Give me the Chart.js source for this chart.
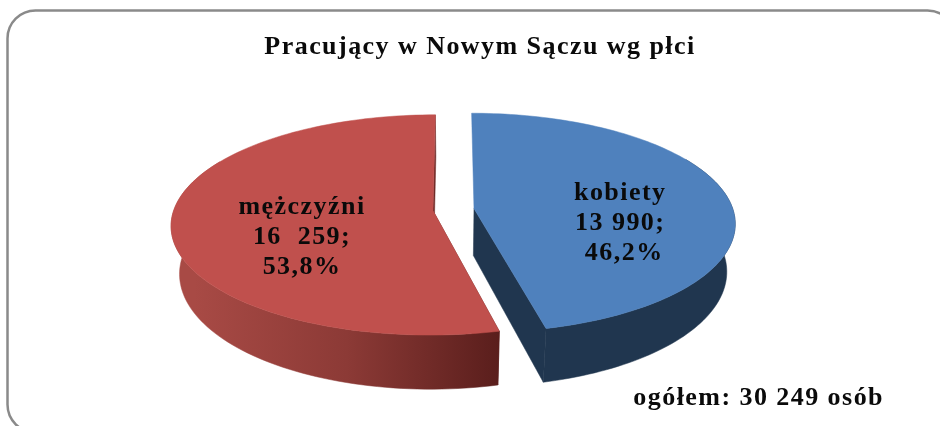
<!DOCTYPE html>
<html lang="pl">
<head>
<meta charset="utf-8">
<style>
html,body{margin:0;padding:0;background:#fff;overflow:hidden}
#wrap{position:relative;width:940px;height:426px}
canvas{display:block}
</style>
<script src="https://cdn.jsdelivr.net/npm/chart.js@4"></script>
</head>
<body>
<div id="wrap"><canvas id="c" width="940" height="426"></canvas></div>
<script>
const titleText = 'Pracujący w Nowym Sączu wg płci';
const noteText = 'ogółem: 30 249 osób';
const categories = ['kobiety', 'mężczyźni'];
const counts = [13990, 16259];
const countLabels = ['13 990;', '16  259;'];
const shareLabels = [' 46,2%', '53,8%'];
const topColors = ['#4f81bd', '#c0504d'];

const serif = '"Liberation Serif", "Times New Roman", serif';
const scene = {
  shiftX: -26.5, shiftY: -3, rx: 259, ry: 108, persp: 0.13,
  depth: 47, taper: 0.03,
  labelR: [0.575, 0.504], labelDy: [22, 20], lineH: 30
};

function project(el, th, r, z) {
  const f = (el.options.offset / 4) / el.outerRadius;
  const mid = (el.startAngle + el.endAngle) / 2;
  const u = f * Math.cos(mid) + r * Math.sin(th);
  const v = f * Math.sin(mid) - r * Math.cos(th);
  const w = 1 / (1 - scene.persp * v);
  const k = 1 - scene.taper * z;
  return {
    x: el.x + scene.shiftX + scene.rx * u * w * k,
    y: el.y + scene.shiftY + scene.ry * v * w + scene.depth * w * z
  };
}
function arcPts(el, r, z, reverse, frontOnly) {
  const a = el.startAngle + Math.PI / 2, b = el.endAngle + Math.PI / 2, n = 120, pts = [];
  for (let i = 0; i <= n; i++) {
    const t = reverse ? 1 - i / n : i / n;
    const th = a + (b - a) * t;
    if (frontOnly && Math.cos(th) > 0.5) continue;
    pts.push(project(el, th, r, z));
  }
  return pts;
}
function fillPoly(ctx, pts, fill) {
  ctx.beginPath();
  pts.forEach((p, i) => i ? ctx.lineTo(p.x, p.y) : ctx.moveTo(p.x, p.y));
  ctx.closePath();
  ctx.fillStyle = fill;
  ctx.fill();
  ctx.strokeStyle = fill;
  ctx.lineWidth = 0.5;
  ctx.stroke();
}

const pie3d = {
  id: 'pie3d',
  beforeDraw(chart) {
    const ctx = chart.ctx;
    ctx.letterSpacing = '1.45px';
    ctx.save();
    ctx.strokeStyle = '#8a8a8a';
    ctx.lineWidth = 2.5;
    ctx.beginPath();
    ctx.roundRect(7.5, 10.5, 948, 422, 28);
    ctx.stroke();
    ctx.restore();
  },
  beforeDatasetDraw(chart) {
    const ctx = chart.ctx, els = chart.getDatasetMeta(0).data;
    ctx.save();
    // red slice first, blue second
    [1, 0].forEach(i => {
      const el = els[i];
      const a = el.startAngle + Math.PI / 2, b = el.endAngle + Math.PI / 2;
      let wall;
      if (i === 0) {
        wall = '#20364f';
      } else {
        const p = project(el, a, 1, 0);
        wall = ctx.createLinearGradient(el.x + scene.shiftX - scene.rx, 0, p.x, 0);
        wall.addColorStop(0, '#a84a45');
        wall.addColorStop(0.5, '#8c3a36');
        wall.addColorStop(1, '#5a1e1c');
      }
      const edges = i === 0 ? [b] : [a, b];
      edges.forEach(th => fillPoly(ctx, [
        project(el, th, 0, 0), project(el, th, 1, 0), project(el, th, 1, 1), project(el, th, 0, 1)
      ], wall));
      fillPoly(ctx, arcPts(el, 1, 0, false, true).concat(arcPts(el, 1, 1, true, true)), wall);
      fillPoly(ctx, [project(el, a, 0, 0)].concat(arcPts(el, 1, 0, false)), topColors[i]);
    });
    ctx.restore();
    return false;
  },
  afterDatasetsDraw(chart) {
    const ctx = chart.ctx, els = chart.getDatasetMeta(0).data;
    ctx.save();
    ctx.fillStyle = '#0a0a0a';
    ctx.textAlign = 'center';
    ctx.textBaseline = 'middle';
    ctx.font = 'bold 26px ' + serif;
    els.forEach((el, i) => {
      const mid = (el.startAngle + el.endAngle) / 2 + Math.PI / 2;
      const c = project(el, mid, scene.labelR[i], 0);
      [categories[i], countLabels[i], shareLabels[i]].forEach((line, j) => {
        ctx.fillText(line, c.x, c.y + scene.labelDy[i] + (j - 1) * scene.lineH);
      });
    });
    ctx.textAlign = 'right';
    ctx.fillText(noteText, 884, 398);
    ctx.restore();
  }
};

new Chart(document.getElementById('c'), {
  type: 'pie',
  data: {
    labels: categories,
    datasets: [{ data: counts, backgroundColor: topColors, offset: 40, borderWidth: 0 }]
  },
  options: {
    responsive: false,
    animation: false,
    layout: { padding: { left: 20, right: 0, top: 0, bottom: 68 } },
    plugins: {
      legend: { display: false },
      tooltip: { enabled: false },
      title: {
        display: true,
        text: titleText,
        color: '#0a0a0a',
        font: { family: serif, size: 26, weight: 'bold' },
        padding: { top: 32, bottom: 4 }
      }
    }
  },
  plugins: [pie3d]
});
</script>
</body>
</html>
